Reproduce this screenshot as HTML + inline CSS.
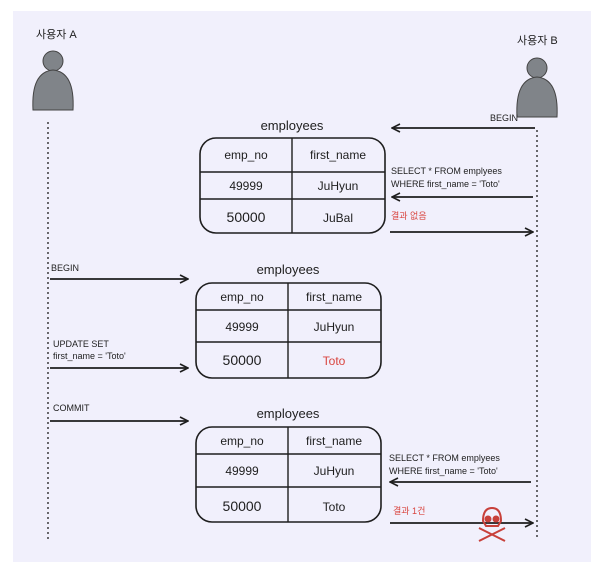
<!DOCTYPE html>
<html><head><meta charset="utf-8"><style>
body{margin:0;background:#fff;width:610px;height:566px;overflow:hidden}
text{font-family:"Liberation Sans","Noto Sans CJK KR",sans-serif;fill:#1e1e1e}
</style></head><body>
<svg width="610" height="566" viewBox="0 0 610 566">
<rect x="13" y="11" width="578" height="551" fill="#f1f0fc"/>
<defs><marker id="ah" markerWidth="10" markerHeight="10" refX="9" refY="5" orient="auto" markerUnits="userSpaceOnUse"><path d="M1 1L9 5L1 9" fill="none" stroke="#1e1e1e" stroke-width="1.6"/></marker></defs>
<!-- actors -->
<text x="36" y="38" font-size="11">사용자 A</text>
<circle cx="53" cy="61" r="10" fill="#808489" stroke="#444" stroke-width="1"/>
<path d="M33 110 Q31 72 53 70 Q75 72 73 110 Z" fill="#808489" stroke="#444" stroke-width="1"/>
<text x="517" y="44" font-size="11">사용자 B</text>
<circle cx="537" cy="68" r="10" fill="#808489" stroke="#444" stroke-width="1"/>
<path d="M517 117 Q515 79 537 77 Q559 79 557 117 Z" fill="#808489" stroke="#444" stroke-width="1"/>
<line x1="48" y1="122" x2="48" y2="540" stroke="#1e1e1e" stroke-width="1.3" stroke-dasharray="2,3"/>
<line x1="537" y1="130" x2="537" y2="540" stroke="#1e1e1e" stroke-width="1.3" stroke-dasharray="2,3"/>
<g font-size="12" text-anchor="middle">
<!-- table 1 -->
<text x="292" y="130" font-size="13">employees</text>
<rect x="200" y="138" width="185" height="95" rx="16" fill="none" stroke="#1e1e1e" stroke-width="1.6"/>
<line x1="292" y1="138" x2="292" y2="233" stroke="#1e1e1e" stroke-width="1.4"/>
<line x1="200" y1="172" x2="385" y2="172" stroke="#1e1e1e" stroke-width="1.6"/>
<line x1="200" y1="199" x2="385" y2="199" stroke="#1e1e1e" stroke-width="1.6"/>
<text x="246" y="159">emp_no</text><text x="338" y="159">first_name</text>
<text x="246" y="190">49999</text><text x="338" y="190">JuHyun</text>
<text x="246" y="222" font-size="14">50000</text><text x="338" y="222">JuBal</text>
<!-- table 2 -->
<text x="288" y="274" font-size="13">employees</text>
<rect x="196" y="283" width="185" height="95" rx="16" fill="none" stroke="#1e1e1e" stroke-width="1.6"/>
<line x1="288" y1="283" x2="288" y2="378" stroke="#1e1e1e" stroke-width="1.4"/>
<line x1="196" y1="310" x2="381" y2="310" stroke="#1e1e1e" stroke-width="1.6"/>
<line x1="196" y1="342" x2="381" y2="342" stroke="#1e1e1e" stroke-width="1.6"/>
<text x="242" y="301">emp_no</text><text x="334" y="301">first_name</text>
<text x="242" y="331">49999</text><text x="334" y="331">JuHyun</text>
<text x="242" y="365" font-size="14">50000</text><text x="334" y="365" style="fill:#d9453f">Toto</text>
<!-- table 3 -->
<text x="288" y="418" font-size="13">employees</text>
<rect x="196" y="427" width="185" height="95" rx="16" fill="none" stroke="#1e1e1e" stroke-width="1.6"/>
<line x1="288" y1="427" x2="288" y2="522" stroke="#1e1e1e" stroke-width="1.4"/>
<line x1="196" y1="454" x2="381" y2="454" stroke="#1e1e1e" stroke-width="1.6"/>
<line x1="196" y1="487" x2="381" y2="487" stroke="#1e1e1e" stroke-width="1.6"/>
<text x="242" y="445">emp_no</text><text x="334" y="445">first_name</text>
<text x="242" y="475">49999</text><text x="334" y="475">JuHyun</text>
<text x="242" y="511" font-size="14">50000</text><text x="334" y="511">Toto</text>
</g>
<!-- arrows -->
<g stroke="#1e1e1e" stroke-width="1.8" marker-end="url(#ah)">
<line x1="535" y1="128" x2="392" y2="128"/>
<line x1="533" y1="197" x2="392" y2="197"/>
<line x1="390" y1="232" x2="533" y2="232"/>
<line x1="50" y1="279" x2="188" y2="279"/>
<line x1="50" y1="368" x2="188" y2="368"/>
<line x1="50" y1="421" x2="188" y2="421"/>
<line x1="531" y1="482" x2="390" y2="482"/>
<line x1="390" y1="523" x2="533" y2="523"/>
</g>
<g font-size="9">
<text x="490" y="121">BEGIN</text>
<text x="391" y="174">SELECT * FROM emplyees</text>
<text x="391" y="187">WHERE first_name = 'Toto'</text>
<text x="391" y="219" style="fill:#d9453f">결과 없음</text>
<text x="51" y="271">BEGIN</text>
<text x="53" y="347">UPDATE SET</text>
<text x="53" y="359">first_name = 'Toto'</text>
<text x="53" y="411">COMMIT</text>
<text x="389" y="461">SELECT * FROM emplyees</text>
<text x="389" y="474">WHERE first_name = 'Toto'</text>
<text x="393" y="514" style="fill:#d9453f">결과 1건</text>
</g>
<!-- skull -->
<g stroke="#c8403a" stroke-width="2" fill="none">
<path d="M483 521 Q483 508 492 508 Q501 508 501 521 L498 526 L486 526 Z"/>
<circle cx="488" cy="519" r="2.5" fill="#c8403a"/><circle cx="496" cy="519" r="2.5" fill="#c8403a"/>
<path d="M479 528 L505 541 M505 528 L479 541"/>
</g>
</svg>
</body></html>
